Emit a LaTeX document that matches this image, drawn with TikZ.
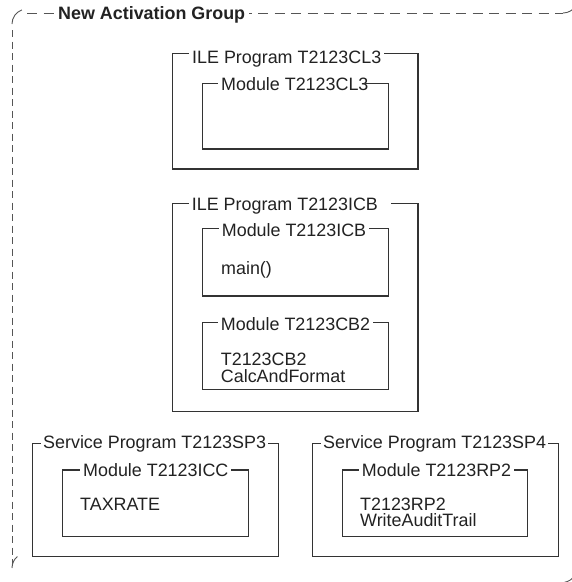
\documentclass[tikz,border=0pt]{standalone}
\usepackage{fontspec}
\setmainfont{Liberation Sans}
\definecolor{ink}{HTML}{222222}
\definecolor{edge}{HTML}{333333}
\definecolor{grpline}{HTML}{555555}
\begin{document}
\begin{tikzpicture}[x=1pt,y=-1pt,
  boxline/.style={draw=edge, line width=1.2pt},
  grp/.style={draw=grpline, line width=0.9pt},
  lbl/.style={fill=white, inner xsep=3pt, inner ysep=1pt, anchor=base west,
              text=ink, font=\fontsize{17.9}{16}\selectfont},
  body/.style={inner sep=0pt, anchor=base west, text=ink,
               font=\fontsize{17.9}{16}\selectfont},
  body2/.style={body, text height=10pt}]
\useasboundingbox (0,0) rectangle (572,582);
\clip (0,0) rectangle (572,582);

% activation group: dashed rounded frame
\draw[grp, dash pattern=on 10pt off 6.5pt] (27,13) -- (563,13);
\draw[grp, dash pattern=on 7pt off 4.5pt] (12,30) -- (12,566);
\draw[grp] (12,24) arc[start angle=180, end angle=250, radius=15];
\draw[grp] (563,13) arc[start angle=90, end angle=30, radius=15];
\draw[grp] (12,568) arc[start angle=180, end angle=230, radius=15];
\draw[grp] (575,575) arc[start angle=30, end angle=80, radius=15];
\node[lbl, font=\fontsize{17.9}{16}\selectfont\bfseries, inner xsep=4pt] (grpname) at (54,19.5) {New Activation Group};

% ILE program T2123CL3
\draw[boxline] (172.7,53.3) rectangle (418,169);
\node[lbl] (pcl3) at (189,63.3) {ILE Program T2123CL3};
\draw[boxline] (202.7,83.3) rectangle (388.7,149);
\node[lbl] (mcl3) at (218,90) {Module T2123CL3};
% the top edge runs on into the last digit of the title
\draw[boxline] (364,83.3) -- (388.7,83.3);

% ILE program T2123ICB
\draw[boxline] (172.7,203.3) rectangle (418,411.7);
\node[lbl] (picb) at (188.7,210) {ILE Program T2123ICB\hspace*{10pt}};
\draw[boxline] (202.7,228.3) rectangle (388.7,296);
\node[lbl] (micb) at (218.7,236) {Module T2123ICB};
\node[body] (main) at (221,274) {main()};
\draw[boxline] (202.7,322.3) rectangle (388.7,389.3);
\node[lbl] (mcb2) at (217.7,330) {Module T2123CB2};
\node[body] (cb2a) at (220.7,365.2) {T2123CB2};
\node[body2] (cb2b) at (220.7,382.2) {CalcAndFormat};

% service program T2123SP3
\draw[boxline] (32.3,443.3) rectangle (278.3,556.7);
\node[lbl, inner xsep=2pt] (psp3) at (41,448.3) {Service Program T2123SP3};
\draw[boxline] (62.3,470) rectangle (248.3,536.7);
\node[lbl] (micc) at (80,476) {Module T2123ICC};
\node[body] (tax) at (80,510.7) {TAXRATE};

% service program T2123SP4
\draw[boxline] (312.7,443.3) rectangle (558.3,556.7);
\node[lbl, inner xsep=2pt] (psp4) at (321,448.3) {Service Program T2123SP4};
\draw[boxline] (342.7,470) rectangle (527.3,536.7);
\node[lbl] (mrp2) at (358.7,476) {Module T2123RP2};
\node[body] (rp2a) at (360,510) {T2123RP2};
\node[body2] (rp2b) at (360,526.7) {WriteAuditTrail};
\end{tikzpicture}
\end{document}
